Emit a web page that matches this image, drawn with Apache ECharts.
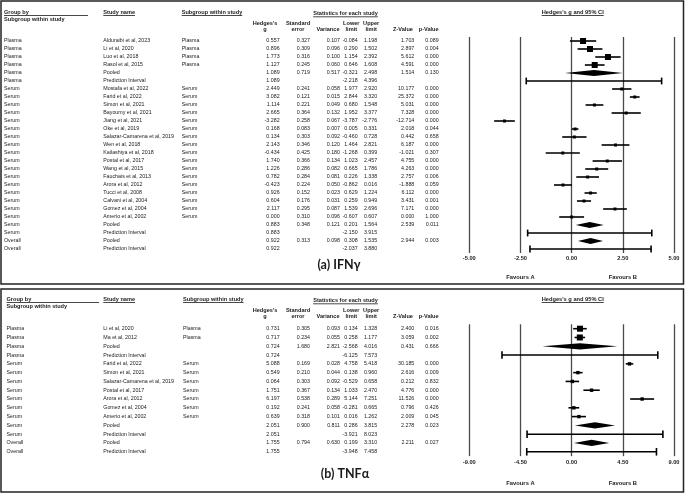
<!DOCTYPE html>
<html><head><meta charset="utf-8">
<script src="https://cdn.jsdelivr.net/npm/echarts@6/dist/echarts.min.js"></script>
<style>html,body{margin:0;padding:0;background:#fff}#c{width:685px;height:495px}</style>
</head><body><div id="c"></div>
<script>
// ---------------- (a) IFN-gamma ----------------
const ifnGroup = ['Plasma','Plasma','Plasma','Plasma','Plasma','Plasma',
  'Serum','Serum','Serum','Serum','Serum','Serum','Serum','Serum','Serum','Serum','Serum','Serum','Serum','Serum','Serum','Serum','Serum','Serum','Serum',
  'Overall','Overall'];
const ifnStudy = ['Alduraibi et al, 2023','Li et al, 2020','Luo et al, 2018','Rasol et al, 2015','Pooled','Prediction Interval',
  'Mostafa et al, 2022','Farid et al, 2022','Simon et al, 2021','Bayoumy et al, 2021','Jiang et al, 2021','Oke et al, 2019',
  'Salazar-Camarena et al, 2019','Wen et al, 2018','Kailashiya et al, 2018','Postal et al, 2017','Wang et al, 2015','Fauchais et al, 2013',
  'Arora et al, 2012','Tucci et al, 2008','Calvani et al, 2004','Gomez et al, 2004','Amerio et al, 2002','Pooled','Prediction Interval',
  'Pooled','Prediction Interval'];
const ifnSub = ['Plasma','Plasma','Plasma','Plasma','','',
  'Serum','Serum','Serum','Serum','Serum','Serum','Serum','Serum','Serum','Serum','Serum','Serum','Serum','Serum','Serum','Serum','Serum','','',
  '',''];
const ifnG = [0.557,0.896,1.773,1.127,1.089,1.089,
  2.449,3.082,1.114,2.665,-3.282,0.168,0.134,2.143,-0.434,1.740,1.226,0.782,-0.423,0.926,0.604,2.117,0.000,0.883,0.883,
  0.922,0.922];
const ifnSE = [0.327,0.309,0.316,0.245,0.719,null,
  0.241,0.121,0.221,0.364,0.258,0.083,0.303,0.346,0.425,0.366,0.286,0.284,0.224,0.152,0.176,0.295,0.310,0.348,null,
  0.313,null];
const ifnVar = [0.107,0.096,0.100,0.060,0.517,null,
  0.058,0.015,0.049,0.132,0.067,0.007,0.092,0.120,0.180,0.134,0.082,0.081,0.050,0.023,0.031,0.087,0.096,0.121,null,
  0.098,null];
const ifnLower = [-0.084,0.290,1.154,0.646,-0.321,-2.218,
  1.977,2.844,0.680,1.952,-3.787,0.005,-0.460,1.464,-1.268,1.023,0.665,0.226,-0.862,0.629,0.259,1.539,-0.607,0.201,-2.150,
  0.308,-2.037];
const ifnUpper = [1.198,1.502,2.392,1.608,2.498,4.396,
  2.920,3.320,1.548,3.377,-2.776,0.331,0.728,2.821,0.399,2.457,1.786,1.338,0.016,1.224,0.949,2.696,0.607,1.564,3.915,
  1.535,3.880];
const ifnZ = [1.703,2.897,5.612,4.591,1.514,null,
  10.177,25.372,5.031,7.328,-12.714,2.018,0.442,6.187,-1.021,4.755,4.263,2.757,-1.888,6.112,3.431,7.171,0.000,2.539,null,
  2.944,null];
const ifnP = [0.089,0.004,0.000,0.000,0.130,null,
  0.000,0.000,0.000,0.000,0.000,0.044,0.658,0.000,0.307,0.000,0.000,0.006,0.059,0.000,0.001,0.000,1.000,0.011,null,
  0.003,null];

// ---------------- (b) TNF-alpha ----------------
const tnfGroup = ['Plasma','Plasma','Plasma','Plasma',
  'Serum','Serum','Serum','Serum','Serum','Serum','Serum','Serum','Serum','Overall','Overall'];
const tnfStudy = ['Li et al, 2020','Ma et al, 2012','Pooled','Prediction Interval',
  'Farid et al, 2022','Simon et al, 2021','Salazar-Camarena et al, 2019','Postal et al, 2017','Arora et al, 2012','Gomez et al, 2004','Amerio et al, 2002',
  'Pooled','Prediction Interval','Pooled','Prediction Interval'];
const tnfSub = ['Plasma','Plasma','','',
  'Serum','Serum','Serum','Serum','Serum','Serum','Serum','','','',''];
const tnfG = [0.731,0.717,0.724,0.724,5.088,0.549,0.064,1.751,6.197,0.192,0.639,2.051,2.051,1.755,1.755];
const tnfSE = [0.305,0.234,1.680,null,0.169,0.210,0.303,0.367,0.538,0.241,0.318,0.900,null,0.794,null];
const tnfVar = [0.093,0.055,2.821,null,0.028,0.044,0.092,0.134,0.289,0.058,0.101,0.811,null,0.630,null];
const tnfLower = [0.134,0.258,-2.568,-6.125,4.758,0.138,-0.529,1.033,5.144,-0.281,0.016,0.286,-3.921,0.199,-3.948];
const tnfUpper = [1.328,1.177,4.016,7.573,5.418,0.960,0.658,2.470,7.251,0.665,1.262,3.815,8.023,3.310,7.458];
const tnfZ = [2.400,3.059,0.431,null,30.185,2.616,0.212,4.776,11.526,0.796,2.009,2.278,null,2.211,null];
const tnfP = [0.016,0.002,0.666,null,0.000,0.009,0.832,0.000,0.000,0.426,0.045,0.023,null,0.027,null];

// axis settings
const ifnAxis = {min:-5, max:5, interval:2.5};
const tnfAxis = {min:-9, max:9, interval:4.5};

const tableHeader = ['Group by','Subgroup within study','Study name','Subgroup within study','Statistics for each study'];
const statHeads = [['Hedges\'s','g'],['Standard','error'],['','Variance'],['Lower','limit'],['Upper','limit'],['','Z-Value'],['','p-Value']];
const forestTitle = 'Hedges\'s g and 95% CI';
const favours = ['Favours A','Favours B'];
const captions = ['(a) IFNγ','(b) TNFα'];

// ---------------- layout ----------------
const FF = '"Liberation Sans", Arial, Helvetica, sans-serif';
const BODY = '5.3px ' + FF;
const BOLD = 'bold 5.6px ' + FF;
const TXT = '#1a1a1a';
const P = [
  {T:{group:ifnGroup,study:ifnStudy,sub:ifnSub,g:ifnG,se:ifnSE,v:ifnVar,lo:ifnLower,hi:ifnUpper,z:ifnZ,p:ifnP},
   axis:ifnAxis, top:37, rowH:8, oy:0, gx:4, gUnder:88, sx:103.3, subx:181.7, box:{Plasma:6,Serum:3}, dh:2.9, cap:3.4,
   labMargin:2, favY:277, cap_y:265, cap_x:339},
  {T:{group:tnfGroup,study:tnfStudy,sub:tnfSub,g:tnfG,se:tnfSE,v:tnfVar,lo:tnfLower,hi:tnfUpper,z:tnfZ,p:tnfP},
   axis:tnfAxis, top:324.3, rowH:8.79, oy:287, gx:6.5, gUnder:99, sx:103.3, subx:183, box:{Plasma:6,Serum:3.4}, dh:3.1, cap:3.8,
   labMargin:3.6, favY:483.3, cap_y:474, cap_x:345}
];
const NUM_RIGHT = [279.6,310,340,357.6,377.2,414.3,438.6];
const HEAD_CX = [265,298,328,351.3,371.2,403,428.7];
const TABLE_W = 457, FX = 469.3, FW = 204.7;

function fmt(v){ return (v===null||v===undefined) ? '' : v.toFixed(3); }

const chart = echarts.init(document.getElementById('c'), null, {renderer:'canvas'});

const grids=[], xAxes=[], yAxes=[], series=[];
P.forEach((pn, k)=>{
  const n = pn.T.study.length, H = n*pn.rowH;
  const cats = pn.T.study.map((_,i)=>String(i));
  grids.push({left:0, top:pn.top, width:TABLE_W, height:H, outerBoundsMode:'none', containLabel:false});
  grids.push({left:FX, top:pn.top, width:FW, height:H, outerBoundsMode:'none', containLabel:false});
  xAxes.push({gridIndex:2*k, type:'value', min:0, max:TABLE_W, show:false});
  xAxes.push({gridIndex:2*k+1, type:'value', min:pn.axis.min, max:pn.axis.max, interval:pn.axis.interval,
    axisLine:{show:false}, axisTick:{show:false},
    axisLabel:{show:true, margin:pn.labMargin, fontSize:5.7, fontWeight:'bold', fontFamily:FF, color:TXT,
      formatter:v=>v.toFixed(2)},
    splitLine:{show:true, lineStyle:{color:'#4a4a4a', width:1.3}}});
  yAxes.push({gridIndex:2*k, type:'category', inverse:true, data:cats, show:false});
  yAxes.push({gridIndex:2*k+1, type:'category', inverse:true, data:cats, show:false});

  const T = pn.T;
  // table text
  series.push({type:'custom', xAxisIndex:2*k, yAxisIndex:2*k, silent:true, animation:false, clip:false,
    data:T.study.map((_,i)=>[0,i]), encode:{x:0,y:1},
    renderItem:(params, api)=>{
      const i = api.value(1);
      const pt = api.coord([0,i]);
      const y = pt[1], x0 = pt[0];
      const ch = [];
      const t = (s,x,align)=>{ if(s!=='') ch.push({type:'text', style:{text:s, x:x0+x, y:y, align:align, verticalAlign:'middle', font:BODY, fill:TXT}}); };
      t(T.group[i], pn.gx, 'left');
      t(T.study[i], pn.sx, 'left');
      t(T.sub[i], pn.subx, 'left');
      [T.g,T.se,T.v,T.lo,T.hi,T.z,T.p].forEach((arr,c)=>t(fmt(arr[i]), NUM_RIGHT[c], 'right'));
      return {type:'group', children:ch};
    }});
  // forest marks
  series.push({type:'custom', xAxisIndex:2*k+1, yAxisIndex:2*k+1, silent:true, animation:false, clip:false,
    data:T.g.map((g,i)=>[g, T.lo[i], T.hi[i], i]), encode:{x:[0,1,2], y:3},
    renderItem:(params, api)=>{
      const i = api.value(3);
      const pg = api.coord([api.value(0), i]), pl = api.coord([api.value(1), i]), ph = api.coord([api.value(2), i]);
      const y = pg[1];
      const name = T.study[i];
      const st = {stroke:'#000', lineWidth:1.6};
      if(name==='Pooled'){
        return {type:'polygon', shape:{points:[[pl[0],y],[pg[0],y-pn.dh],[ph[0],y],[pg[0],y+pn.dh]]}, style:{fill:'#000'}};
      }
      if(name==='Prediction Interval'){
        return {type:'group', children:[
          {type:'line', shape:{x1:pl[0],y1:y,x2:ph[0],y2:y}, style:st},
          {type:'line', shape:{x1:pl[0],y1:y-pn.cap,x2:pl[0],y2:y+pn.cap}, style:st},
          {type:'line', shape:{x1:ph[0],y1:y-pn.cap,x2:ph[0],y2:y+pn.cap}, style:st}]};
      }
      const b = pn.box[T.group[i]] || 3;
      return {type:'group', children:[
        {type:'line', shape:{x1:pl[0],y1:y,x2:ph[0],y2:y}, style:st},
        {type:'rect', shape:{x:pg[0]-b/2, y:y-b/2, width:b, height:b}, style:{fill:'#000'}}]};
    }});
});

chart.setOption({animation:false, grid:grids, xAxis:xAxes, yAxis:yAxes, series:series});

// headers / frames / captions (text)
const mctx = document.createElement('canvas').getContext('2d');
function tw(s, font){ mctx.font = font; return mctx.measureText(s).width; }
const G = [];
function text(s, x, y, font, align){ G.push({type:'text', silent:true, style:{text:s, x:x, y:y, font:font, fill:TXT, align:align||'left', verticalAlign:'middle'}}); }
function hline(x1, x2, y, w){ G.push({type:'line', silent:true, shape:{x1:x1,y1:y,x2:x2,y2:y}, style:{stroke:'#1a1a1a', lineWidth:w||0.8}}); }
function underlined(s, x, y, font, align){
  text(s, x, y, font, align);
  const w = tw(s, font);
  const x1 = align==='center' ? x-w/2 : x;
  hline(x1, x1+w, y+3.2);
}
P.forEach((pn,k)=>{
  const oy = pn.oy;
  G.push({type:'rect', silent:true, shape:{x:1, y:1+oy+(k?1:0), width:682.5, height:k?203:283}, style:{fill:'none', stroke:'#222', lineWidth:1.5}});
  text(tableHeader[0], pn.gx, 12.3+oy, BOLD);
  hline(pn.gx, pn.gUnder, 15.5+oy);
  text(tableHeader[1], pn.gx, 19+oy, BOLD);
  underlined(tableHeader[2], pn.sx, 12.3+oy, BOLD);
  underlined(tableHeader[3], pn.subx, 12.3+oy, BOLD);
  underlined(tableHeader[4], 345.5, 13.6+oy, BOLD, 'center');
  statHeads.forEach((h,c)=>{
    if(h[0]) text(h[0], HEAD_CX[c], 23.3+oy, BOLD, 'center');
    text(h[1], HEAD_CX[c], 29+oy, BOLD, 'center');
  });
  underlined(forestTitle, 572.7, 12.3+oy, 'bold 5.7px '+FF, 'center');
  const xa = chart.convertToPixel({xAxisIndex:2*k+1}, -pn.axis.interval);
  const xb = chart.convertToPixel({xAxisIndex:2*k+1}, pn.axis.interval);
  text(favours[0], xa, pn.favY, 'bold 5.8px '+FF, 'center');
  text(favours[1], xb, pn.favY, 'bold 5.8px '+FF, 'center');
  text(captions[k], pn.cap_x, pn.cap_y, 'bold 12.5px Lato, "Open Sans", sans-serif', 'center');
});
chart.setOption({graphic:{elements:G}});
</script></body></html>
